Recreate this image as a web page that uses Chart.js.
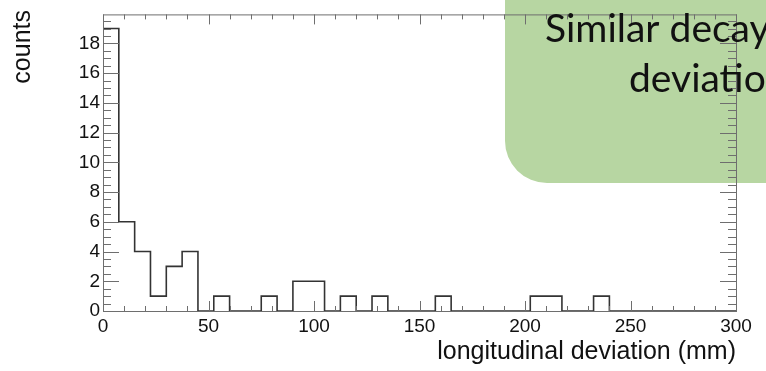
<!DOCTYPE html>
<html>
<head>
<meta charset="utf-8">
<script src="https://cdn.jsdelivr.net/npm/chart.js@4.4.1/dist/chart.umd.min.js"></script>
<style>
  html, body { margin: 0; padding: 0; background: #fff; }
  canvas { display: block; }
</style>
</head>
<body>
<canvas id="hist" width="766" height="371"></canvas>
<script>
// bin left edges (mm), last edge closes the histogram
const binEdges = [0, 7.5, 15, 22.5, 30, 37.5, 45, 52.5, 60, 67.5,
                  75, 82.5, 90, 97.5, 105, 112.5, 120, 127.5, 135, 142.5,
                  150, 157.5, 165, 172.5, 180, 187.5, 195, 202.5, 210, 217.5,
                  225, 232.5, 240, 247.5, 255, 262.5, 270, 277.5, 285, 292.5, 300]
const counts = [19, 6, 4, 1, 3, 4, 0, 1, 0, 0,
                1, 0, 2, 2, 0, 1, 0, 1, 0, 0,
                0, 1, 0, 0, 0, 0, 0, 1, 1, 0,
                0, 1, 0, 0, 0, 0, 0, 0, 0, 0]
const xTickLabels = [0, 50, 100, 150, 200, 250, 300]
const yTickLabels = [0, 2, 4, 6, 8, 10, 12, 14, 16, 18]
const xTitle = 'longitudinal deviation (mm)'
const yTitle = 'counts'
const boxLines = ['Similar decay', 'deviation']

const frameColor = '#6e6e6e'
const labelFont = { family: '"Liberation Sans", Arial', size: 19 }

const points = binEdges.map((x, i) => ({ x: x, y: counts[Math.min(i, counts.length - 1)] }))

const greenBox = {
  id: 'greenBox',
  beforeDraw(chart) {
    const c = chart.ctx
    const r = 42
    c.save()
    c.fillStyle = '#b7d6a2'
    c.beginPath()
    c.moveTo(505, 0)
    c.lineTo(766, 0)
    c.lineTo(766, 183)
    c.lineTo(505 + r, 183)
    c.arcTo(505, 183, 505, 183 - r, r)
    c.closePath()
    c.fill()
    c.restore()
  },
  afterDraw(chart) {
    const c = chart.ctx
    c.save()
    c.fillStyle = '#111'
    c.font = '39px Lato, "Open Sans", sans-serif'
    c.textBaseline = 'alphabetic'
    c.textAlign = 'left'
    c.fillText(boxLines[0], 545, 42)
    c.fillText(boxLines[1], 629, 92)
    c.restore()
  }
}

const rootFrame = {
  id: 'rootFrame',
  afterDatasetsDraw(chart) {
    const c = chart.ctx
    const a = chart.chartArea
    const xs = chart.scales.x
    const ys = chart.scales.y
    c.save()
    c.strokeStyle = frameColor
    c.lineWidth = 1
    c.strokeRect(a.left + 0.5, a.top + 0.5, a.right - a.left, a.bottom - a.top)
    c.beginPath()
    for (let v = 0; v <= 300; v += 10) {
      const px = Math.round(xs.getPixelForValue(v)) + 0.5
      const len = v % 50 === 0 ? 10 : 5
      c.moveTo(px, a.bottom); c.lineTo(px, a.bottom - len)
      c.moveTo(px, a.top); c.lineTo(px, a.top + len)
    }
    for (let v = 0; v <= 19.5; v += 0.5) {
      const py = Math.round(ys.getPixelForValue(v)) + 0.5
      const len = v % 2 === 0 ? 16 : 8
      c.moveTo(a.left, py); c.lineTo(a.left + len, py)
      c.moveTo(a.right, py); c.lineTo(a.right - len, py)
    }
    c.stroke()

    // axis titles, ROOT style: right aligned at the frame ends
    c.fillStyle = '#111'
    c.font = '25px "Liberation Sans", Arial, sans-serif'
    c.textAlign = 'right'
    c.textBaseline = 'alphabetic'
    c.fillText(xTitle, a.right, 359)
    c.translate(30, 10)
    c.rotate(-Math.PI / 2)
    c.fillText(yTitle, 0, 0)
    c.restore()
  }
}

new Chart(document.getElementById('hist'), {
  type: 'line',
  data: {
    datasets: [{
      data: points,
      stepped: 'before',
      borderColor: '#333',
      borderWidth: 1.6,
      pointRadius: 0,
      fill: false
    }]
  },
  options: {
    responsive: false,
    animation: false,
    devicePixelRatio: 1,
    layout: { padding: { left: 0, right: 30, top: 9, bottom: 0 } },
    plugins: { legend: { display: false }, tooltip: { enabled: false } },
    scales: {
      x: {
        type: 'linear',
        min: 0,
        max: 300,
        afterBuildTicks: s => { s.ticks = xTickLabels.map(v => ({ value: v })) },
        afterFit: s => { s.height = 60 },
        grid: { display: false, drawTicks: false },
        border: { display: false },
        ticks: { padding: 4, color: '#111', font: labelFont, maxRotation: 0 }
      },
      y: {
        type: 'linear',
        min: 0,
        max: 19.95,
        afterBuildTicks: s => { s.ticks = yTickLabels.map(v => ({ value: v })) },
        afterFit: s => { s.width = 103 },
        grid: { display: false, drawTicks: false },
        border: { display: false },
        ticks: { padding: 3, color: '#111', font: labelFont }
      }
    }
  },
  plugins: [greenBox, rootFrame]
})
</script>
</body>
</html>
